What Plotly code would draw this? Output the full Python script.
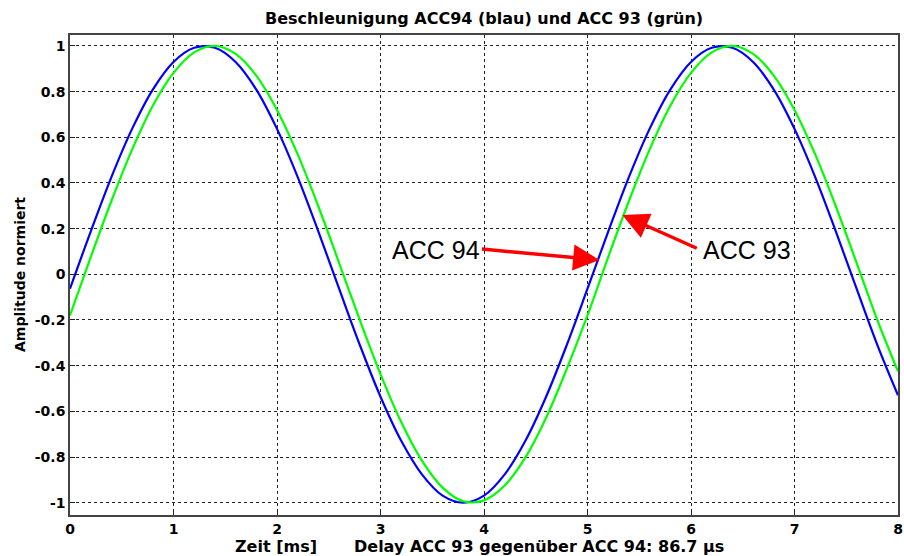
import plotly.graph_objects as go

# time axis [ms]
t_ms = [0.0, 0.2, 0.4, 0.6, 0.8, 1.0, 1.2, 1.4, 1.6, 1.8, 2.0, 2.2, 2.4, 2.6, 2.8,
        3.0, 3.2, 3.4, 3.6, 3.8, 4.0, 4.2, 4.4, 4.6, 4.8, 5.0, 5.2, 5.4, 5.6, 5.8,
        6.0, 6.2, 6.4, 6.6, 6.8, 7.0, 7.2, 7.4, 7.6, 7.8, 8.0]

# ACC 94 (blue), normalised amplitude
acc94 = [-0.063, 0.187, 0.426, 0.637, 0.809, 0.930, 0.992, 0.992, 0.930, 0.809,
         0.637, 0.426, 0.187, -0.063, -0.309, -0.536, -0.729, -0.876, -0.969, -1.000,
         -0.969, -0.876, -0.729, -0.536, -0.309, -0.063, 0.187, 0.426, 0.637, 0.809,
         0.930, 0.992, 0.992, 0.930, 0.809, 0.637, 0.426, 0.187, -0.063, -0.309, -0.530]

# ACC 93 (green), normalised amplitude
acc93 = [-0.180, 0.075, 0.321, 0.546, 0.738, 0.882, 0.972, 1.000, 0.965, 0.870,
         0.720, 0.525, 0.297, 0.050, -0.200, -0.437, -0.647, -0.816, -0.934, -0.994,
         -0.990, -0.925, -0.802, -0.628, -0.414, -0.180, 0.075, 0.321, 0.546, 0.738,
         0.882, 0.972, 1.000, 0.965, 0.870, 0.720, 0.525, 0.297, 0.050, -0.200, -0.425]

x_ticks = [0, 1, 2, 3, 4, 5, 6, 7, 8]
y_ticks = [-1, -0.8, -0.6, -0.4, -0.2, 0, 0.2, 0.4, 0.6, 0.8, 1]
y_tick_labels = ["-1", "-0.8", "-0.6", "-0.4", "-0.2", "0", "0.2", "0.4", "0.6", "0.8", "1"]

title_text = "Beschleunigung ACC94 (blau) und ACC 93 (grün)"
xlabel_text = "Zeit [ms]"
delay_text = "Delay ACC 93 gegenüber ACC 94: 86.7 µs"
ylabel_text = "Amplitude normiert"

fig = go.Figure()
fig.add_trace(go.Scatter(x=t_ms, y=acc94, mode="lines", line=dict(color="#0000ff", width=2.2, shape="spline", smoothing=1.0),
                         name="ACC 94", showlegend=False, hoverinfo="skip"))
fig.add_trace(go.Scatter(x=t_ms, y=acc93, mode="lines", line=dict(color="#00ff00", width=2.2, shape="spline", smoothing=1.0),
                         name="ACC 93", showlegend=False, hoverinfo="skip"))

bold = dict(family="DejaVu Sans, Liberation Sans, sans-serif", size=14, color="black", weight="bold")
bold_big = dict(family="DejaVu Sans, Liberation Sans, sans-serif", size=16, color="black", weight="bold")
narrow = dict(family="Liberation Sans Narrow, Liberation Sans, Arial, sans-serif", size=25, color="black")

fig.update_layout(
    width=904, height=556,
    margin=dict(l=70, r=1, t=35, b=41),
    paper_bgcolor="white", plot_bgcolor="white",
    showlegend=False,
    xaxis=dict(range=[0, 8], tickvals=x_ticks, ticktext=[str(v) for v in x_ticks],
               showgrid=True, gridcolor="#222", griddash="3px,3px", gridwidth=1,
               zeroline=False, showline=True, linecolor="#444", linewidth=1.5, mirror=True,
               ticks="inside", ticklen=5, tickcolor="#222", tickfont=bold,
               ticklabeloverflow="allow"),
    yaxis=dict(range=[-1.054, 1.048], tickvals=y_ticks, ticktext=y_tick_labels,
               showgrid=True, gridcolor="#222", griddash="3px,3px", gridwidth=1,
               zeroline=False, showline=True, linecolor="#444", linewidth=1.5, mirror=True,
               ticks="inside", ticklen=5, tickcolor="#222", tickfont=bold),
)

ann = []
# title
ann.append(dict(text=title_text, xref="paper", yref="paper", x=0.5, y=1, yshift=17,
                xanchor="center", yanchor="middle", showarrow=False, font=bold_big))
# x-axis labels
ann.append(dict(text=xlabel_text, xref="paper", yref="paper", x=(277 - 70) / 833, y=0, yshift=-31,
                xanchor="center", yanchor="middle", showarrow=False, font=bold_big))
ann.append(dict(text=delay_text, xref="paper", yref="paper", x=(542 - 70) / 833, y=0, yshift=-31,
                xanchor="center", yanchor="middle", showarrow=False, font=bold_big))
# y-axis label
ann.append(dict(text=ylabel_text, xref="paper", yref="paper", x=0, xshift=-50, y=0.5,
                xanchor="center", yanchor="middle", textangle=-90, showarrow=False, font=bold))
# curve labels
ann.append(dict(text="ACC 94", xref="x", yref="y", x=3.54, y=0.105,
                xanchor="center", yanchor="middle", showarrow=False, font=narrow))
ann.append(dict(text="ACC 93", xref="x", yref="y", x=6.54, y=0.105,
                xanchor="center", yanchor="middle", showarrow=False, font=narrow))
# arrows
ann.append(dict(text="", xref="x", yref="y", x=5.115, y=0.063, ax=-119, ay=-11,
                showarrow=True, arrowhead=2, arrowsize=1.5, arrowwidth=3.5, arrowcolor="#ff0000", standoff=0))
ann.append(dict(text="", xref="x", yref="y", x=5.336, y=0.26, ax=76, ay=34,
                showarrow=True, arrowhead=2, arrowsize=1.5, arrowwidth=3.5, arrowcolor="#ff0000", standoff=0))
fig.update_layout(annotations=ann)

fig.write_html("out.html")
